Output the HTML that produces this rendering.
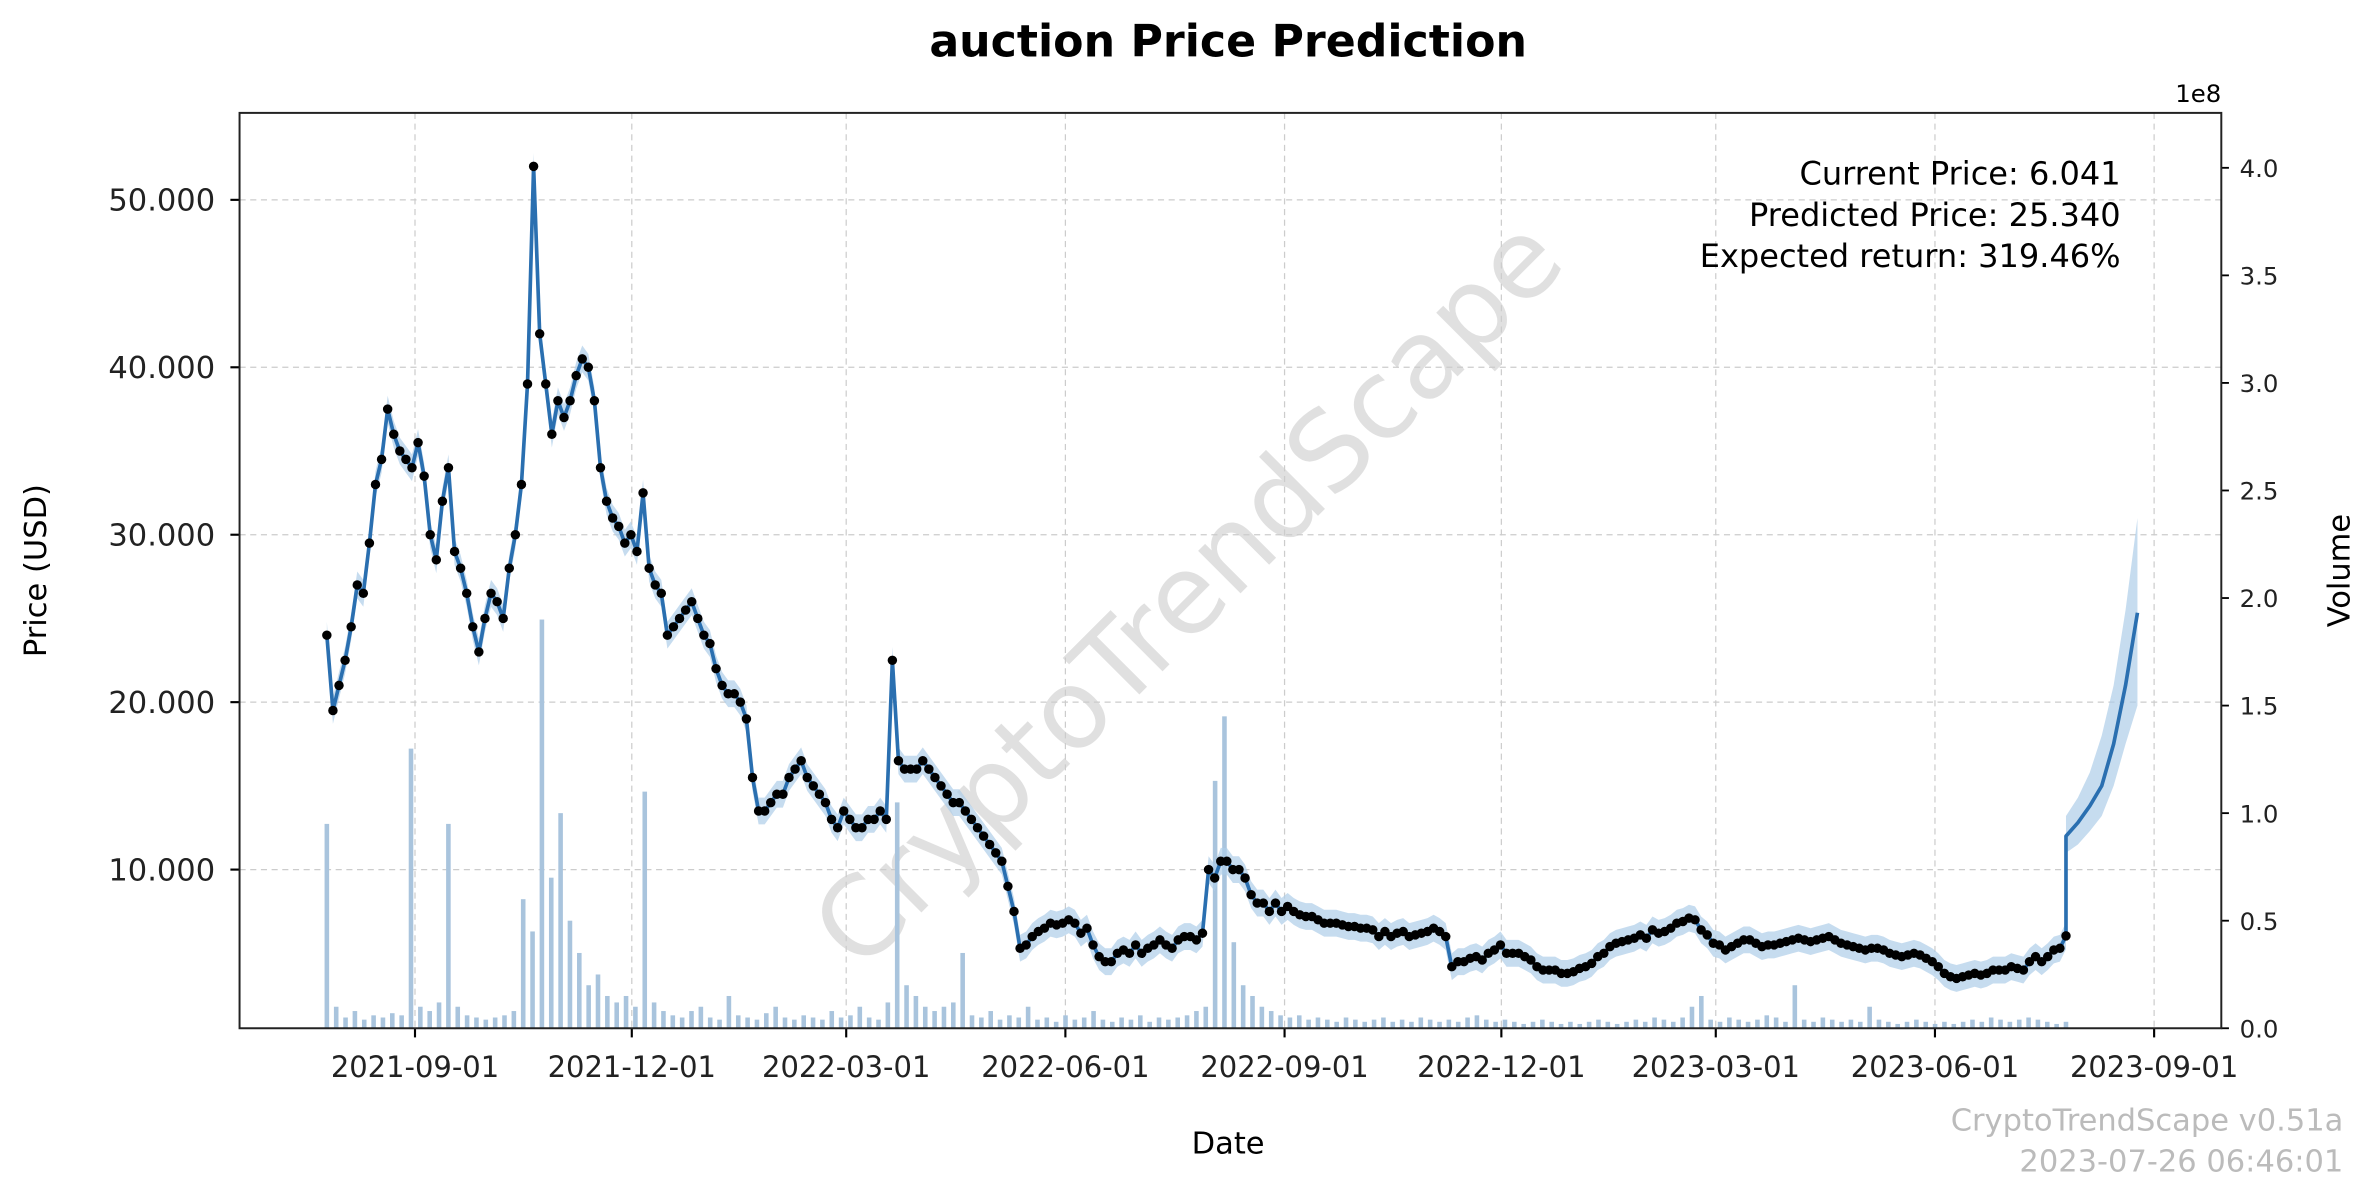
<!DOCTYPE html>
<html><head><meta charset="utf-8"><title>auction Price Prediction</title>
<style>
html,body{margin:0;padding:0;background:#fff;}
svg{display:block;font-family:"DejaVu Sans","Liberation Sans",sans-serif;}
</style></head>
<body>
<svg id="chart" width="2380" height="1186" viewBox="0 0 1560 777.4" xmlns="http://www.w3.org/2000/svg">
<rect x="0" y="0" width="1560" height="778" fill="#fff"/>
<text x="782" y="392" text-anchor="middle" dominant-baseline="middle" font-size="72" fill="#000" fill-opacity="0.12" transform="rotate(-45 782 392)">CryptoTrendScape</text>
<g id="grid"></g>
<g id="vol"></g>
<g id="series"></g>
<g id="axes"></g>
<text x="805" y="37" text-anchor="middle" font-size="29" font-weight="bold">auction Price Prediction</text>
<text x="1390" y="121" text-anchor="end" font-size="21">Current Price: 6.041</text>
<text x="1390" y="148" text-anchor="end" font-size="21">Predicted Price: 25.340</text>
<text x="1390" y="175" text-anchor="end" font-size="21">Expected return: 319.46%</text>
<text x="1456" y="67" text-anchor="end" font-size="16">1e8</text>
<text x="805" y="756" text-anchor="middle" font-size="20">Date</text>
<text x="30" y="374" text-anchor="middle" font-size="20" transform="rotate(-90 30 374)">Price (USD)</text>
<text x="1540" y="374" text-anchor="middle" font-size="20" transform="rotate(-90 1540 374)">Volume</text>
<text x="1536" y="741" text-anchor="end" font-size="20" fill="#bbb">CryptoTrendScape v0.51a</text>
<text x="1536" y="768" text-anchor="end" font-size="20" fill="#bbb">2023-07-26 06:46:01</text>
</svg>
<script>
const priceStart = "2021-07-26";
const priceEnd = "2023-07-26";
const prices = [24,19.5,21,22.5,24.5,27,26.5,29.5,33,34.5,37.5,36,35,34.5,34,35.5,33.5,30,28.5,32,34,29,28,26.5,24.5,23,25,26.5,26,25,28,30,33,39,52,42,39,36,38,37,38,39.5,40.5,40,38,34,32,31,30.5,29.5,30,29,32.5,28,27,26.5,24,24.5,25,25.5,26,25,24,23.5,22,21,20.5,20.5,20,19,15.5,13.5,13.5,14,14.5,14.5,15.5,16,16.5,15.5,15,14.5,14,13,12.5,13.5,13,12.5,12.5,13,13,13.5,13,22.5,16.5,16,16,16,16.5,16,15.5,15,14.5,14,14,13.5,13,12.5,12,11.5,11,10.5,9,7.5,5.3,5.5,6,6.3,6.5,6.8,6.7,6.8,7,6.8,6.2,6.5,5.5,4.8,4.5,4.5,5,5.2,5,5.5,5,5.3,5.5,5.8,5.5,5.3,5.8,6,6,5.8,6.2,10,9.5,10.5,10.5,10,10,9.5,8.5,8,8,7.5,8,7.5,7.8,7.5,7.3,7.2,7.2,7,6.8,6.8,6.8,6.7,6.6,6.6,6.5,6.5,6.4,6,6.3,6,6.2,6.3,6,6.1,6.2,6.3,6.5,6.3,6,4.2,4.5,4.5,4.7,4.8,4.6,5,5.2,5.5,5,5,5,4.8,4.6,4.2,4,4,4,3.8,3.8,3.9,4.1,4.2,4.4,4.8,5,5.4,5.6,5.7,5.8,5.9,6.1,5.9,6.4,6.2,6.3,6.5,6.8,6.9,7.1,7,6.4,6.1,5.6,5.5,5.2,5.4,5.6,5.8,5.8,5.6,5.4,5.5,5.5,5.6,5.7,5.8,5.9,5.8,5.7,5.8,5.9,6,5.8,5.6,5.5,5.4,5.3,5.2,5.3,5.3,5.2,5,4.9,4.8,4.9,5,4.9,4.7,4.5,4.2,3.8,3.6,3.5,3.6,3.7,3.8,3.7,3.8,4,4,4,4.2,4.1,4,4.5,4.8,4.5,4.8,5.2,5.3,6.041];
const forecastDays = [0,5,10,15,20,25,30];
const forecast = [12,12.8,13.8,15,17.5,21,25.34];
const forecastUpper = [13.2,14.3,15.8,18,21,25.5,31];
const forecastLower = [11,11.5,12.3,13.2,15,17.5,19.8];
const volumes = [0.95,0.1,0.05,0.08,0.04,0.06,0.05,0.07,0.06,1.3,0.1,0.08,0.12,0.95,0.1,0.06,0.05,0.04,0.05,0.06,0.08,0.6,0.45,1.9,0.7,1.0,0.5,0.35,0.2,0.25,0.15,0.12,0.15,0.1,1.1,0.12,0.08,0.06,0.05,0.08,0.1,0.05,0.04,0.15,0.06,0.05,0.04,0.07,0.1,0.05,0.04,0.06,0.05,0.04,0.08,0.05,0.06,0.1,0.05,0.04,0.12,1.05,0.2,0.15,0.1,0.08,0.1,0.12,0.35,0.06,0.05,0.08,0.04,0.06,0.05,0.1,0.04,0.05,0.03,0.06,0.04,0.05,0.08,0.04,0.03,0.05,0.04,0.06,0.03,0.05,0.04,0.05,0.06,0.08,0.1,1.15,1.45,0.4,0.2,0.15,0.1,0.08,0.06,0.05,0.06,0.04,0.05,0.04,0.03,0.05,0.04,0.03,0.04,0.05,0.03,0.04,0.03,0.05,0.04,0.03,0.04,0.03,0.05,0.06,0.04,0.03,0.04,0.03,0.02,0.03,0.04,0.03,0.02,0.03,0.02,0.03,0.04,0.03,0.02,0.03,0.04,0.03,0.05,0.04,0.03,0.05,0.1,0.15,0.04,0.03,0.05,0.04,0.03,0.04,0.06,0.05,0.03,0.2,0.04,0.03,0.05,0.04,0.03,0.04,0.03,0.1,0.04,0.03,0.02,0.03,0.04,0.03,0.02,0.03,0.02,0.03,0.04,0.03,0.05,0.04,0.03,0.04,0.05,0.04,0.03,0.02,0.03];
const priceTicks = [10,20,30,40,50];
const priceTickLabels = ["10.000","20.000","30.000","40.000","50.000"];
const volTicks = [0,0.5,1,1.5,2,2.5,3,3.5,4];
const volTickLabels = ["0.0","0.5","1.0","1.5","2.0","2.5","3.0","3.5","4.0"];
const dateTicks = ["2021-09-01","2021-12-01","2022-03-01","2022-06-01","2022-09-01","2022-12-01","2023-03-01","2023-06-01","2023-09-01"];

const NS="http://www.w3.org/2000/svg";
const L=157,R=1456,T=74,B=674;
const DAY=86400000;
const t0=Date.parse("2021-09-01T00:00:00Z");
function dayOf(s){return (Date.parse(s+"T00:00:00Z")-t0)/DAY;}
function xs(d){return 272+d*1.5616;}
function ys(v){return 679.75-v*10.975;}
function yv(v){return 674-v*141;}
function mk(tag,attrs,parent){const e=document.createElementNS(NS,tag);for(const k in attrs)e.setAttribute(k,attrs[k]);parent.appendChild(e);return e;}
const grid=document.getElementById('grid'),axes=document.getElementById('axes'),vol=document.getElementById('vol'),ser=document.getElementById('series');

const d0=dayOf(priceStart),d1=dayOf(priceEnd);
const pStep=(d1-d0)/(prices.length-1);
const vStep=(d1-d0)/(volumes.length-1);

priceTicks.forEach((v,i)=>{
  const g=mk('line',{x1:L,x2:R,y1:ys(v),y2:ys(v),stroke:'#ccc','stroke-width':0.8,'stroke-dasharray':'4,3'},grid);
  
  
  const tk=mk('line',{x1:L-6,x2:L,y1:ys(v),y2:ys(v),stroke:'#000','stroke-width':1.4},axes);
  
  
  const t=mk('text',{x:L-16,y:ys(v)+7,'text-anchor':'end','font-size':20,fill:'#222'},axes);
  t.textContent=priceTickLabels[i];
  
  
});
dateTicks.forEach(s=>{
  const x=xs(dayOf(s));
  const g=mk('line',{x1:x,x2:x,y1:T,y2:B,stroke:'#ccc','stroke-width':0.8,'stroke-dasharray':'4,3'},grid);
  
  
  const tk=mk('line',{x1:x,x2:x,y1:B,y2:B+6,stroke:'#000','stroke-width':1.4},axes);
  
  
  const t=mk('text',{x:x,y:B+32,'text-anchor':'middle','font-size':19,fill:'#222'},axes);
  t.textContent=s;
  
  
});
volTicks.forEach((v,i)=>{
  const tk=mk('line',{x1:R,x2:R+5,y1:yv(v),y2:yv(v),stroke:'#000','stroke-width':1.2},axes);
  
  
  const t=mk('text',{x:R+12,y:yv(v)+6,'font-size':16,fill:'#222'},axes);
  t.textContent=volTickLabels[i];
  
  
});
const frame=mk('rect',{x:L,y:T,width:R-L,height:B-T,fill:'none',stroke:'#222','stroke-width':1.3},axes);



volumes.forEach((v,i)=>{
  const x=xs(d0+i*vStep);
  const r=mk('rect',{x:x-1.5,y:yv(v),width:3,height:Math.max(0,B-yv(v)),fill:'#a9c4dd'},vol);
  
  
});

let up=[],lo=[],pts=[];
prices.forEach((v,i)=>{const x=xs(d0+i*pStep);pts.push([x,ys(v)]);up.push([x,ys(v+0.8)]);lo.push([x,ys(v-0.8)]);});
const band=mk('polygon',{points:up.concat(lo.reverse()).map(p=>p.join(',')).join(' '),fill:'#aecde8','fill-opacity':0.7},ser);


let fu=[],fl=[],fp=[];
forecastDays.forEach((d,i)=>{const x=xs(d1+d);fu.push([x,ys(forecastUpper[i])]);fl.push([x,ys(forecastLower[i])]);fp.push([x,ys(forecast[i])]);});
const fb=mk('polygon',{points:fu.concat(fl.reverse()).map(p=>p.join(',')).join(' '),fill:'#aecde8','fill-opacity':0.7},ser);


const line=mk('polyline',{points:pts.concat(fp).map(p=>p.join(',')).join(' '),fill:'none',stroke:'#2a6fb0','stroke-width':2.4,'stroke-linejoin':'round'},ser);


pts.forEach(p=>{
  const c=mk('circle',{cx:p[0],cy:p[1],r:3.1,fill:'#000'},ser);
  
  
});
</script>
</body></html>
